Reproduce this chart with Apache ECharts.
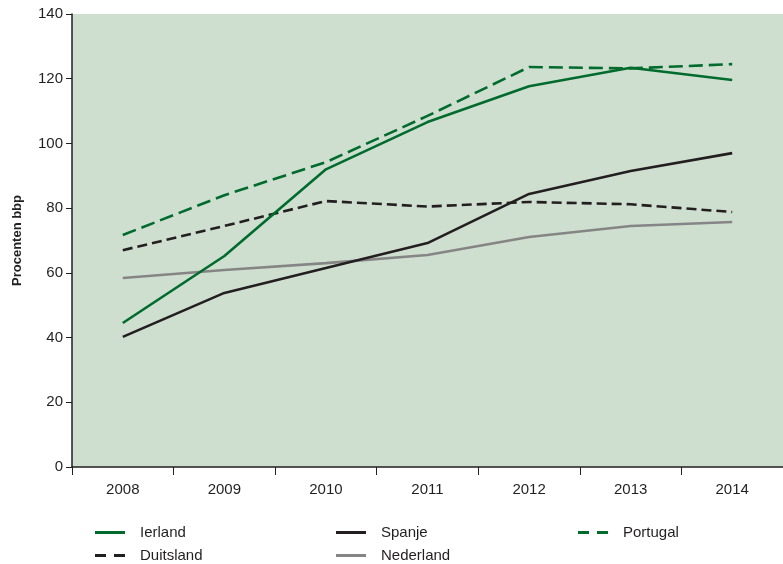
<!DOCTYPE html>
<html><head><meta charset="utf-8">
<script src="https://cdn.jsdelivr.net/npm/echarts@6/dist/echarts.min.js"></script>
<style>html,body{margin:0;padding:0;background:#fff}#c{width:783px;height:564px}</style>
</head><body><div id="c"></div>
<script>
const years = ['2008','2009','2010','2011','2012','2013','2014'];
const ierland = [44.5, 65.2, 92.0, 106.6, 117.7, 123.4, 119.6];
const portugal = [71.7, 84.0, 94.2, 108.5, 123.6, 123.2, 124.5];
const spanje = [40.2, 53.8, 61.5, 69.2, 84.4, 91.5, 97.0];
const duitsland = [67.0, 74.5, 82.2, 80.5, 81.9, 81.2, 78.8];
const nederland = [58.4, 60.9, 63.0, 65.5, 71.1, 74.5, 75.7];
const yTicks = [0, 20, 40, 60, 80, 100, 120, 140];

const GREEN = '#006b2d', BLACK = '#231f20', GRAY = '#858585';
const font = 'Liberation Sans, Arial, sans-serif';
const SOLID_ICON = 'path://M0,0h30v3h-30z';
const DASH_ICON = 'path://M0,0h11v3h-11z M19,0h11v3h-11z';
function s(name, data, color, dash) {
  return { name, type: 'line', data, symbol: 'none', animation: false,
    lineStyle: { color, width: 2.6, type: dash || 'solid' },
    itemStyle: { color } };
}
function leg(left, top, name, dashed) {
  return { left, top, orient: 'vertical', itemWidth: 30, itemHeight: 3,
    data: [{ name, icon: dashed ? DASH_ICON : SOLID_ICON }],
    textStyle: { fontFamily: font, fontSize: 15, color: BLACK, padding: [0, 0, 0, 10] },
    selectedMode: false, padding: 0 };
}
const chart = echarts.init(document.getElementById('c'));
chart.setOption({
  backgroundColor: '#fff',
  grid: { left: 72, right: 0, top: 14, bottom: 97, show: true, backgroundColor: '#cfdfcf', borderWidth: 0,
    containLabel: false, outerBoundsMode: 'none' },
  xAxis: { type: 'category', data: years, boundaryGap: true,
    axisLine: { lineStyle: { color: BLACK, width: 1.5 } },
    axisTick: { show: true, length: 8, lineStyle: { color: BLACK } },
    axisLabel: { fontFamily: font, fontSize: 15, color: BLACK, margin: 15 } },
  yAxis: { type: 'value', min: 0, max: 140, interval: 20,
    name: 'Procenten bbp', nameLocation: 'middle', nameGap: 48,
    nameTextStyle: { fontFamily: font, fontSize: 13, fontWeight: 'bold', color: BLACK },
    axisLine: { show: true, lineStyle: { color: BLACK, width: 1.5 } },
    axisTick: { show: true, length: 6, lineStyle: { color: BLACK } },
    splitLine: { show: false },
    axisLabel: { fontFamily: font, fontSize: 15, color: BLACK, margin: 9,
      formatter: v => yTicks.includes(v) ? String(v) : '' } },
  legend: [
    leg(95, 525, 'Ierland', false),
    leg(95, 548, 'Duitsland', true),
    leg(336, 525, 'Spanje', false),
    leg(336, 548, 'Nederland', false),
    leg(578, 525, 'Portugal', true)
  ],
  series: [
    s('Nederland', nederland, GRAY),
    s('Duitsland', duitsland, BLACK, [10, 5]),
    s('Spanje', spanje, BLACK),
    s('Ierland', ierland, GREEN),
    s('Portugal', portugal, GREEN, [14, 6])
  ]
});
</script></body></html>
